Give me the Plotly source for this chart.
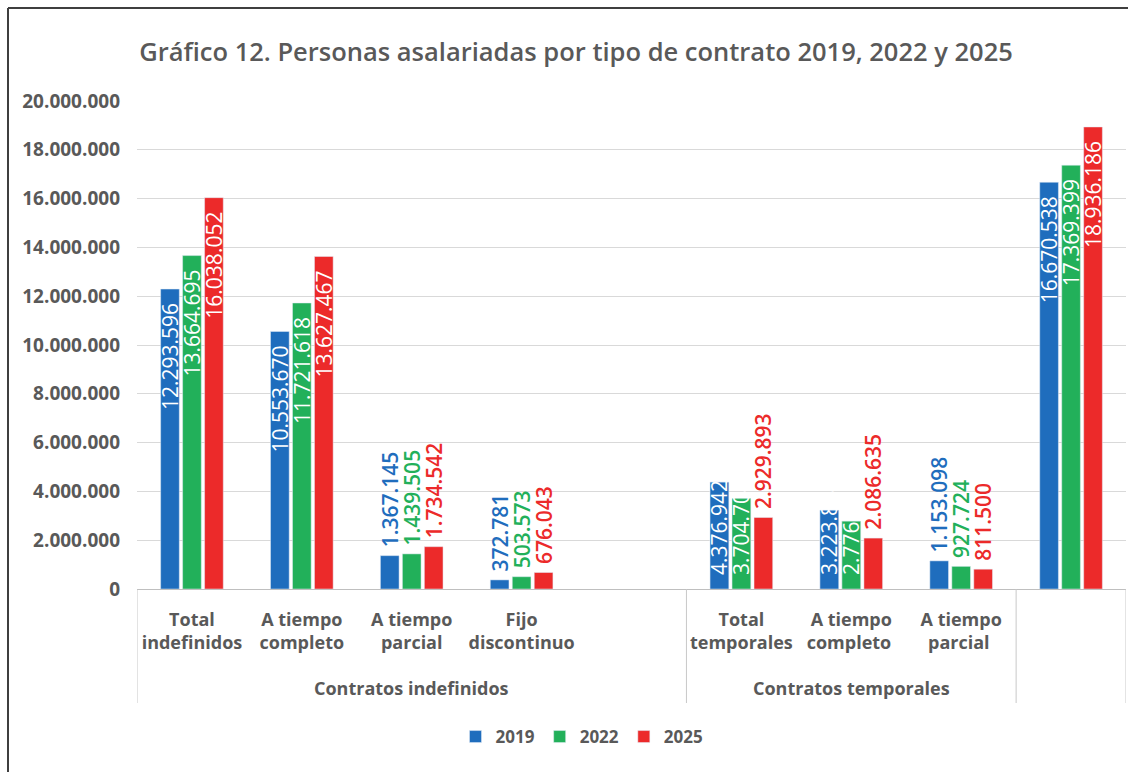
import plotly.graph_objects as go

# ---------------- data ----------------
groups = ["Contratos indefinidos"] * 5 + ["Contratos temporales"] * 3 + [""]
subcats = ["Total<br>indefinidos", "A tiempo<br>completo", "A tiempo<br>parcial",
           "Fijo<br>discontinuo", " ", "Total<br>temporales", "A tiempo<br>completo ",
           "A tiempo<br>parcial ", "  "]
years = ["2019", "2022", "2025"]
v2019 = [12293596, 10553670, 1367145, 372781, None, 4376942, 3223844, 1153098, 16670538]
v2022 = [13664695, 11721618, 1439505, 503573, None, 3704704, 2776980, 927724, 17369399]
v2025 = [16038052, 13627467, 1734542, 676043, None, 2929893, 2086635, 811500, 18936186]
y_ticks = list(range(0, 20000001, 2000000))

# label placement (style)
pos2019 = ["inside", "inside", "outside", "outside", "none", "clip", "clip", "outside", "inside"]
pos2022 = ["inside", "inside", "outside", "outside", "none", "clip", "clip", "outside", "inside"]
pos2025 = ["inside", "inside", "outside", "outside", "none", "outside", "outside", "outside", "inside"]
colors = ["#1f6dbd", "#22b05a", "#ec2a2a"]

W, H = 1128, 772
ML, MR, MT, MB = 137, 2, 101, 183
GREY = "#595959"
FONT = "Open Sans"
NB = "\u00a0"


def fmt(v):
    return "" if v is None else f"{v:,}".replace(",", ".")


def label(v, p):
    if p == "inside":
        return fmt(v) + NB * 2
    if p == "outside":
        return NB + fmt(v)
    return ""


fig = go.Figure()
for name, vals, pos, col in zip(years, [v2019, v2022, v2025], [pos2019, pos2022, pos2025], colors):
    texts = [label(v, p) for v, p in zip(vals, pos)]
    tpos = [p if p in ("inside", "outside") else "none" for p in pos]
    fig.add_trace(go.Bar(
        x=subcats, y=vals, name=name, marker_color=col, offsetgroup=name,
        text=texts, textposition=tpos, textangle=-90, constraintext="none",
        insidetextanchor="end",
        insidetextfont=dict(family=FONT, size=21, color="white", weight=500),
        outsidetextfont=dict(family=FONT, size=21, color=col, weight=600),
        cliponaxis=True, hoverinfo="skip",
    ))
    # labels that Excel clipped inside the bar (anchored at bar base)
    if "clip" in pos:
        cy = [v if p == "clip" else None for v, p in zip(vals, pos)]
        ct = [NB * 2 + fmt(v) if p == "clip" else "" for v, p in zip(vals, pos)]
        fig.add_trace(go.Bar(
            x=subcats, y=cy, name=name, marker_color=col, offsetgroup=name, showlegend=False,
            text=ct, textposition="inside", textangle=-90, constraintext="none",
            insidetextanchor="start",
            insidetextfont=dict(family=FONT, size=21, color="white", weight=500),
            cliponaxis=True, hoverinfo="skip",
        ))


def px_x(p):
    return (p - ML) / (W - ML - MR)


def px_y(p):
    return (H - MB - p) / (H - MT - MB)


# chart border (top and left edges visible)
fig.add_shape(type="line", xref="paper", yref="paper",
              x0=px_x(8), x1=px_x(1140), y0=px_y(8), y1=px_y(8),
              line=dict(color="#3f3f3f", width=2))
fig.add_shape(type="line", xref="paper", yref="paper",
              x0=px_x(8), x1=px_x(8), y0=px_y(8), y1=px_y(790),
              line=dict(color="#3f3f3f", width=2))

# group labels and dividers of the category axis
bounds = [0]
for i in range(1, len(groups)):
    if groups[i] != groups[i - 1]:
        bounds.append(i)
bounds.append(len(groups))
for b in bounds:
    fig.add_shape(type="line", xref="x", yref="paper", x0=b - 0.5, x1=b - 0.5,
                  y0=0, y1=px_y(703), line=dict(color="#c8c8c8", width=1))
for s, e in zip(bounds[:-1], bounds[1:]):
    if groups[s]:
        fig.add_annotation(x=(s + e - 1) / 2, xref="x", y=px_y(688), yref="paper",
                           text=groups[s], showarrow=False, yanchor="middle",
                           font=dict(family=FONT, size=18, color=GREY, weight=700))

fig.update_layout(
    width=W, height=H,
    margin=dict(l=ML, r=MR, t=MT, b=MB),
    paper_bgcolor="white", plot_bgcolor="white",
    separators=",.",
    barmode="group", bargap=0.4, bargroupgap=0.15,
    title=dict(text="Gráfico 12. Personas asalariadas por tipo de contrato 2019, 2022 y 2025",
               x=576 / W, xanchor="center", y=1 - 52 / H, yanchor="middle",
               font=dict(family=FONT, size=25.5, color=GREY, weight=600)),
    font=dict(family=FONT, color=GREY),
    legend=dict(orientation="h", xref="container", yref="container",
                x=582 / W, xanchor="center", y=1 - 737 / H, yanchor="middle",
                font=dict(family=FONT, size=17, color=GREY, weight=700),
                traceorder="normal"),
    showlegend=True,
)
fig.update_yaxes(range=[0, 20000000], tickvals=y_ticks, tickformat=",d",
                 showgrid=True, gridcolor="#d9d9d9", gridwidth=1,
                 zeroline=False, showline=False, ticks="", automargin=False,
                 ticklabelstandoff=16,
                 tickfont=dict(family=FONT, size=19, color=GREY, weight=700))
fig.update_xaxes(type="category", range=[-0.5, len(subcats) - 0.5],
                 showline=True, linecolor="#bfbfbf", linewidth=1,
                 tickangle=0, automargin=False, ticks="", ticklabelstandoff=14,
                 tickfont=dict(family=FONT, size=18, color=GREY, weight=700))

fig.write_html("out.html")
